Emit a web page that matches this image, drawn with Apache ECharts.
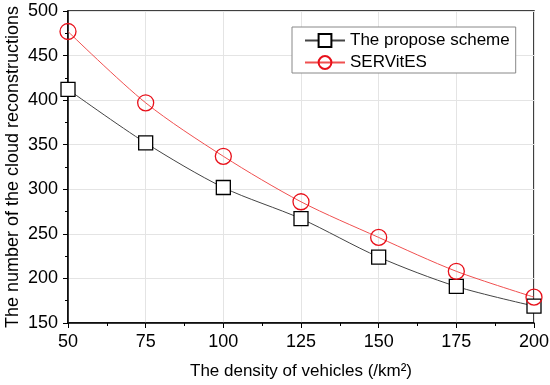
<!DOCTYPE html>
<html><head><meta charset="utf-8">
<script src="https://cdn.jsdelivr.net/npm/echarts@6/dist/echarts.min.js"></script>
<style>html,body{margin:0;padding:0;background:#fff}#c{width:550px;height:385px}</style>
</head><body><div id="c"></div>
<script>
const densities = [50, 75, 100, 125, 150, 175, 200];
const proposedScheme = [412, 352, 302, 267, 224, 191, 169];
const servites = [477, 397, 337, 286, 246, 208, 179];
const seriesNames = ['The propose scheme', 'SERVitES'];
const xTicks = [50, 75, 100, 125, 150, 175, 200];
const yTicks = [150, 200, 250, 300, 350, 400, 450, 500];

const font = 'Liberation Sans, Arial, sans-serif';
const chart = echarts.init(document.getElementById('c'));
chart.setOption({
  animation: false,
  grid: { left: 68, right: 16, top: 11, bottom: 62, show: true, borderColor: '#000', borderWidth: 1.5, outerBoundsMode: 'none', containLabel: false },
  legend: {
    left: 292, top: 27, width: 225, orient: 'vertical',
    padding: [5, 6, 2, 12], itemGap: 5, itemWidth: 40, itemHeight: 16,
    borderColor: '#888', borderWidth: 1, backgroundColor: '#fff',
    textStyle: { fontFamily: font, fontSize: 17, color: '#000' },
    data: seriesNames
  },
  xAxis: {
    type: 'value', min: xTicks[0], max: xTicks[xTicks.length - 1], interval: 25,
    name: 'The density of vehicles (/km²)', nameLocation: 'middle', nameGap: 40, nameMoveOverlap: false,
    nameTextStyle: { fontFamily: font, fontSize: 17, color: '#000' },
    axisLine: { lineStyle: { color: '#000', width: 1.5 } },
    axisTick: { length: 5, lineStyle: { color: '#000' } },
    minorTick: { show: true, splitNumber: 2, length: 3, lineStyle: { color: '#000' } },
    axisLabel: { fontFamily: font, fontSize: 18, color: '#000', margin: 10 },
    splitLine: { show: true, lineStyle: { color: '#e4e4e4' } }
  },
  yAxis: {
    type: 'value', min: yTicks[0], max: yTicks[yTicks.length - 1], interval: 50,
    name: 'The number of the cloud reconstructions', nameLocation: 'middle', nameGap: 46, nameMoveOverlap: false,
    nameTextStyle: { fontFamily: font, fontSize: 18, color: '#000' },
    axisLine: { show: true, lineStyle: { color: '#000', width: 1.5 } },
    axisTick: { show: true, length: 5, lineStyle: { color: '#000' } },
    minorTick: { show: true, splitNumber: 2, length: 3, lineStyle: { color: '#000' } },
    axisLabel: { fontFamily: font, fontSize: 18, color: '#000', margin: 10 },
    splitLine: { show: true, lineStyle: { color: '#e4e4e4' } }
  },
  series: [
    {
      name: seriesNames[0], type: 'line', smooth: 0.3,
      data: densities.map((d, i) => [d, proposedScheme[i]]),
      symbol: 'rect', symbolSize: 14,
      lineStyle: { color: '#444', width: 1 },
      itemStyle: { color: '#fff', borderColor: '#000', borderWidth: 1.3 },
      color: '#444'
    },
    {
      name: seriesNames[1], type: 'line', smooth: 0.3,
      data: densities.map((d, i) => [d, servites[i]]),
      symbol: 'circle', symbolSize: 16,
      lineStyle: { color: '#f05050', width: 1 },
      itemStyle: { color: 'rgba(255,255,255,0)', borderColor: '#e8101a', borderWidth: 1.3 },
      color: '#f05050'
    }
  ]
});
</script></body></html>
